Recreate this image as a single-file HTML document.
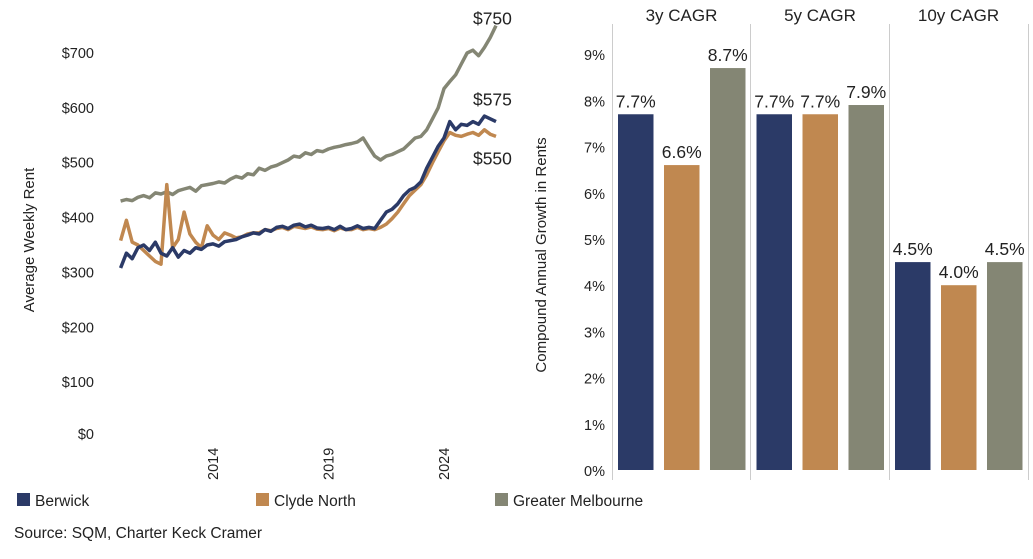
<!DOCTYPE html>
<html><head><meta charset="utf-8"><style>
body{margin:0;background:#fff;width:1033px;height:554px;overflow:hidden;font-family:"Liberation Sans","DejaVu Sans",sans-serif;}
svg text{font-family:"Liberation Sans","DejaVu Sans",sans-serif;fill:#222;}
</style></head><body>
<svg id="c" width="1033" height="554" xmlns="http://www.w3.org/2000/svg"></svg>
<script>
const startYear=2010, stepYears=0.25;
const yTicks=[0,100,200,300,400,500,600,700];
const yTickLabels=["$0","$100","$200","$300","$400","$500","$600","$700"];
const xTicks=[2014,2019,2024];
const gmRent=[430,433,431,437,440,436,445,443,447,442,449,452,455,448,458,460,462,465,463,470,475,472,480,478,490,486,492,495,500,505,512,510,518,515,522,520,525,528,530,533,535,538,545,528,512,505,512,515,520,525,535,545,548,560,580,600,635,648,660,680,700,705,695,710,728,750];
const berwickRent=[308,335,325,345,350,340,355,335,330,345,328,340,335,345,342,350,352,348,356,358,360,365,368,372,370,378,375,382,384,380,386,388,383,386,381,380,382,378,384,378,380,385,380,382,380,395,410,415,425,440,450,455,465,490,510,530,545,575,560,570,568,575,570,585,580,575];
const clydeRent=[358,395,355,350,340,330,320,315,460,345,360,410,370,355,345,385,368,360,372,368,363,365,370,372,372,378,376,380,382,378,384,382,380,383,379,378,380,376,381,378,378,382,378,380,378,382,388,398,410,425,440,450,460,478,500,520,540,555,550,548,552,555,550,560,552,548];
const endLabels=["$750","$575","$550"];
const barGroups=["3y CAGR","5y CAGR","10y CAGR"];
const berwickCagr=[7.7,7.7,4.5];
const clydeCagr=[6.6,7.7,4.0];
const gmCagr=[8.7,7.9,4.5];
const pctTicks=[0,1,2,3,4,5,6,7,8,9];

const NS="http://www.w3.org/2000/svg";
const svg=document.getElementById('c');
function mk(tag,attrs,parent){const e=document.createElementNS(NS,tag);for(const k in attrs)e.setAttribute(k,attrs[k]);(parent||svg).appendChild(e);return e;}
const C={b:"#2b3a67",c:"#c08850",g:"#848674"};
const xL=yr=>120.6+(yr-2010)*23.1;
const yL=v=>437-v*0.5486;
yTicks.forEach((v,i)=>{const t=mk('text',{x:94,y:(i==0?yL(v)-3:yL(v))+5,'text-anchor':'end','font-size':14.5});t.textContent=yTickLabels[i];
});
xTicks.forEach(yr=>{const t=mk('text',{transform:`translate(${xL(yr)+5},480) rotate(-90)`,'font-size':14.5});t.textContent=String(yr);
});
let t=mk('text',{transform:'translate(34,240) rotate(-90)','text-anchor':'middle','font-size':15});t.textContent="Average Weekly Rent";

function line(arr,col,name){const d=arr.map((v,i)=>(i?'L':'M')+xL(startYear+i*stepYears).toFixed(1)+','+yL(v).toFixed(1)).join('');
const p=mk('path',{d:d,fill:'none',stroke:col,'stroke-width':3.5,'stroke-linejoin':'round'});}
line(gmRent,C.g,'greater-melbourne-line');line(clydeRent,C.c,'clyde-north-line');line(berwickRent,C.b,'berwick-line');
const lastX=xL(startYear+(gmRent.length-1)*stepYears);
[[gmRent,-1],[berwickRent,-16],[clydeRent,28]].forEach((s,i)=>{const v=s[0][s[0].length-1];const e=mk('text',{x:lastX-23,y:yL(v)+s[1],'font-size':17.5});e.textContent=endLabels[i];
});
const y0=470,pp=46.2;const yB=v=>y0-v*pp;
mk('line',{x1:612.5,y1:24,x2:612.5,y2:480,stroke:'#ccc'});
[750.5,889.5,1028.5].forEach(x=>mk('line',{x1:x,y1:24,x2:x,y2:480,stroke:'#ccc'}));
pctTicks.forEach(v=>{const e=mk('text',{x:605,y:yB(v)+6,'text-anchor':'end','font-size':14.5});e.textContent=v+'%';
});
t=mk('text',{transform:'translate(546,255) rotate(-90)','text-anchor':'middle','font-size':15});t.textContent="Compound Annual Growth in Rents";

barGroups.forEach((g,gi)=>{const gx=612.5+gi*138.5;
const h=mk('text',{x:gx+69,y:21,'text-anchor':'middle','font-size':17});h.textContent=g;

[[berwickCagr,C.b],[clydeCagr,C.c],[gmCagr,C.g]].forEach((s,si)=>{const v=s[0][gi];const bx=gx+5.5+si*46;
const r=mk('rect',{x:bx,y:yB(v),width:35.5,height:v*pp,fill:s[1]});
const l=mk('text',{x:bx+17.75,y:yB(v)-7,'text-anchor':'middle','font-size':17.5});l.textContent=v.toFixed(1)+'%';
});});
[["Berwick",C.b,17],["Clyde North",C.c,256],["Greater Melbourne",C.g,495]].forEach(s=>{
const r=mk('rect',{x:s[2],y:493,width:13,height:13,fill:s[1]});
const e=mk('text',{x:s[2]+18,y:506,'font-size':15.5});e.textContent=s[0];});
t=mk('text',{x:14,y:538,'font-size':15.5});t.textContent="Source: SQM, Charter Keck Cramer";

</script>
</body></html>
